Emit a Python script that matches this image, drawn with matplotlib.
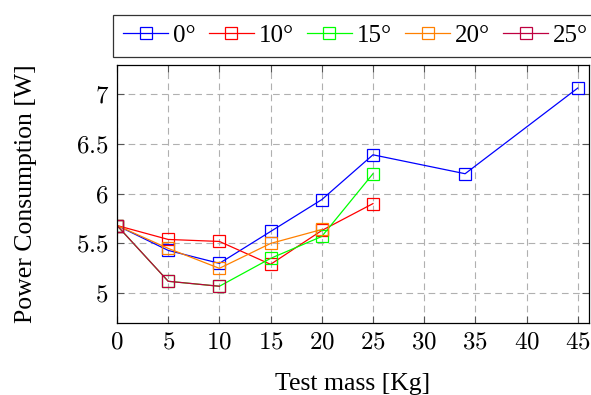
import numpy as np
import matplotlib.pyplot as plt

plt.rcParams['font.family'] = ['Liberation Serif', 'DejaVu Serif']
plt.rcParams['mathtext.fontset'] = 'cm'

# data
mass_0 = [0, 5, 10, 15, 20, 25, 34, 45]
power_0 = [5.68, 5.43, 5.30, 5.62, 5.94, 6.39, 6.20, 7.06]
mass_10 = [0, 5, 10, 15, 20, 25]
power_10 = [5.68, 5.54, 5.52, 5.29, 5.63, 5.90]
mass_15 = [0, 5, 10, 15, 20, 25]
power_15 = [5.68, 5.12, 5.07, 5.35, 5.57, 6.20]
mass_20 = [0, 5, 10, 15, 20]
power_20 = [5.68, 5.45, 5.25, 5.50, 5.64]
mass_25 = [0, 5, 10]
power_25 = [5.68, 5.12, 5.07]

series = [
    ('0°', mass_0, power_0, '#0000ff'),
    ('10°', mass_10, power_10, '#ff0000'),
    ('15°', mass_15, power_15, '#00ff00'),
    ('20°', mass_20, power_20, '#ff8000'),
    ('25°', mass_25, power_25, '#bf0040'),
]
xticks = np.arange(0, 50, 5)
yticks = [5, 5.5, 6, 6.5, 7]

fig = plt.figure(figsize=(5.91, 3.95), dpi=100)
ax = fig.add_axes([0.198, 0.182, 0.7986, 0.653])

for name, x, y, c in series:
    ax.plot(x, y, '-', color=c, lw=0.9, marker='s', ms=8, mfc='none',
            mec=c, mew=0.9, label=name)

ax.set_xlim(0, 46.1)
ax.set_ylim(4.70, 7.29)
ax.set_xticks(xticks)
ax.set_xticklabels([f'${t}$' for t in xticks])
ax.set_yticks(yticks)
ax.set_yticklabels([f'${t:g}$' for t in yticks])
ax.tick_params(direction='in', top=True, right=True, labelsize=18, length=5,
               color='#555555', width=0.8, pad=6)
ax.grid(True, color='#b0b0b0', linestyle=(0, (6, 4)), lw=0.8)
for s in ax.spines.values():
    s.set_linewidth(0.9)

ax.set_xlabel('Test mass [Kg]', fontsize=18.5, labelpad=14)
ax.set_ylabel('Power Consumption [W]', fontsize=18.5, labelpad=28)

leg = ax.legend(ncol=5, loc='lower left', bbox_to_anchor=(-0.008, 1.031),
                fontsize=18, frameon=True, fancybox=False, edgecolor='black',
                handlelength=1.8, handletextpad=0.2, columnspacing=0.52,
                borderpad=0.4, borderaxespad=0)
leg.get_frame().set_linewidth(0.9)

fig.savefig('out.png', dpi=100)
